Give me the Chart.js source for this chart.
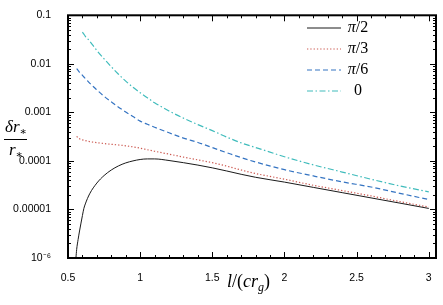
<!DOCTYPE html>
<html>
<head>
<meta charset="utf-8">
<script src="https://cdn.jsdelivr.net/npm/chart.js@4/dist/chart.umd.min.js"></script>
<style>
  html, body { margin: 0; padding: 0; background: #fff; }
  #wrap { width: 443px; height: 305px; }
</style>
</head>
<body>
<div id="wrap"><canvas id="chart" width="443" height="305"></canvas></div>
<script>
// Valeurs
const xValues = [0.555, 0.56, 0.57, 0.58, 0.6, 0.61, 0.62, 0.65, 0.7, 0.75, 0.8, 0.85, 0.9, 0.95, 1.0, 1.05, 1.1, 1.2, 1.3, 1.4, 1.5, 1.6, 1.7, 1.8, 2.0, 2.2, 2.4, 2.6, 2.8, 3.0];

const halfPi = [1.0e-6, 1.5e-6, 2.4e-6, 3.6e-6, 7.5e-6, 1.05e-5, 1.3e-5, 2.1e-5, 3.5e-5, 5.0e-5, 6.5e-5, 7.9e-5, 9.1e-5, 1.0e-4, 1.07e-4, 1.1e-4, 1.1e-4, 1.02e-4, 9.2e-5, 8.2e-5, 7.2e-5, 6.2e-5, 5.3e-5, 4.6e-5, 3.66e-5, 2.85e-5, 2.22e-5, 1.73e-5, 1.35e-5, 1.05e-5];

const thirdPi = [null, 3.2e-4, 3.0e-4, 2.85e-4, 2.72e-4, 2.67e-4, 2.62e-4, 2.5e-4, 2.38e-4, 2.28e-4, 2.2e-4, 2.13e-4, 2.05e-4, 1.95e-4, 1.83e-4, 1.7e-4, 1.58e-4, 1.38e-4, 1.2e-4, 1.05e-4, 9.2e-5, 7.8e-5, 6.5e-5, 5.5e-5, 4.2e-5, 3.15e-5, 2.45e-5, 1.9e-5, 1.45e-5, 1.12e-5];

const sixthPi = [null, 8.0e-3, 7.3e-3, 6.7e-3, 5.8e-3, 5.35e-3, 5.0e-3, 4.0e-3, 2.9e-3, 2.15e-3, 1.65e-3, 1.28e-3, 1.02e-3, 8.2e-4, 6.6e-4, 5.7e-4, 4.95e-4, 3.8e-4, 2.95e-4, 2.4e-4, 1.88e-4, 1.48e-4, 1.17e-4, 9.5e-5, 6.6e-5, 4.9e-5, 3.7e-5, 2.9e-5, 2.15e-5, 1.6e-5];

const zeroAngle = [null, null, null, null, 0.045, 0.041, 0.037, 0.0295, 0.0188, 0.0127, 0.0087, 0.0061, 0.0044, 0.0033, 0.00254, 0.002, 0.00158, 0.00107, 7.6e-4, 5.6e-4, 4.2e-4, 3.1e-4, 2.35e-4, 1.89e-4, 1.22e-4, 8.3e-5, 5.9e-5, 4.2e-5, 3.05e-5, 2.3e-5];

const seriesLabels = ['π/2', 'π/3', 'π/6', '0'];
const xTicks = [0.5, 1, 1.5, 2, 2.5, 3];
const xTickLabels = ['0.5', '1', '1.5', '2', '2.5', '3'];
const yTicks = [1e-6, 1e-5, 1e-4, 1e-3, 1e-2, 1e-1];
const yTickLabels = ['10⁻⁶', '0.00001', '0.0001', '0.001', '0.01', '0.1'];

function toPoints(values) {
    return xValues.map((x, i) => ({ x: x, y: values[i] }));
}

const serif = '"Liberation Serif", "DejaVu Serif", serif';

// Texte en plusieurs morceaux (italique / droit / indice)
function drawRuns(ctx, runs, x, y) {
    let cx = x;
    for (const r of runs) {
        ctx.font = r.font;
        ctx.fillText(r.t, cx, y + (r.dy || 0));
        cx += ctx.measureText(r.t).width;
    }
}

function runsWidth(ctx, runs) {
    let w = 0;
    for (const r of runs) {
        ctx.font = r.font;
        w += ctx.measureText(r.t).width;
    }
    return w;
}

// Cadre, graduations vers l'intérieur, légende et titres
const decorPlugin = {
    id: 'decor',
    afterDraw(chart) {
        const ctx = chart.ctx;
        const area = chart.chartArea;
        const xs = chart.scales.x;
        const ys = chart.scales.y;
        ctx.save();
        ctx.strokeStyle = '#000';
        ctx.fillStyle = '#000';

        // graduations x
        ctx.lineWidth = 1;
        for (let i = 5; i <= 30; i++) {
            const v = i / 10;
            const px = Math.round(xs.getPixelForValue(v)) + 0.5;
            const len = (i % 5 === 0) ? 6 : 3;
            ctx.beginPath();
            ctx.moveTo(px, area.bottom);
            ctx.lineTo(px, area.bottom - len);
            ctx.moveTo(px, area.top);
            ctx.lineTo(px, area.top + len);
            ctx.stroke();
        }
        // graduations y (log)
        for (let e = -6; e <= -1; e++) {
            for (let m = 1; m <= 9; m++) {
                const v = m * Math.pow(10, e);
                if (v > 0.1 + 1e-12) continue;
                const py = Math.round(ys.getPixelForValue(v)) + 0.5;
                const len = (m === 1) ? 6 : 3;
                ctx.beginPath();
                ctx.moveTo(area.left, py);
                ctx.lineTo(area.left + len, py);
                ctx.moveTo(area.right, py);
                ctx.lineTo(area.right - len, py);
                ctx.stroke();
            }
        }
        // cadre
        ctx.lineWidth = 2;
        ctx.strokeRect(area.left, area.top, area.right - area.left, area.bottom - area.top);

        // légende
        const rows = [28, 49, 70, 91];
        chart.data.datasets.forEach((ds, i) => {
            const y = rows[i];
            ctx.save();
            ctx.strokeStyle = ds.borderColor;
            ctx.lineWidth = ds.borderWidth;
            ctx.setLineDash(ds.borderDash || []);
            ctx.beginPath();
            ctx.moveTo(307, y);
            ctx.lineTo(341, y);
            ctx.stroke();
            ctx.restore();
            const lbl = ds.label;
            const runs = lbl.startsWith('π')
                ? [{ t: 'π', font: 'italic 16px ' + serif }, { t: lbl.slice(1), font: '16px ' + serif }]
                : [{ t: lbl, font: '16px ' + serif }];
            ctx.textBaseline = 'middle';
            ctx.textAlign = 'left';
            const w = runsWidth(ctx, runs);
            drawRuns(ctx, runs, 358 - w / 2, y);
        });

        // titre y : δr*/r*
        ctx.textBaseline = 'alphabetic';
        ctx.textAlign = 'left';
        drawRuns(ctx, [
            { t: 'δr', font: 'italic 17px ' + serif },
            { t: '∗', font: '11px ' + serif, dy: 3 }
        ], 5, 132);
        ctx.lineWidth = 1;
        ctx.beginPath();
        ctx.moveTo(4, 139.5);
        ctx.lineTo(27, 139.5);
        ctx.stroke();
        drawRuns(ctx, [
            { t: 'r', font: 'italic 17px ' + serif },
            { t: '∗', font: '11px ' + serif, dy: 3 }
        ], 9, 155);

        // titre x : l/(cr_g)
        drawRuns(ctx, [
            { t: 'l', font: 'italic 18px ' + serif },
            { t: '/(', font: '18px ' + serif },
            { t: 'cr', font: 'italic 18px ' + serif },
            { t: 'g', font: 'italic 12px ' + serif, dy: 4 },
            { t: ')', font: '18px ' + serif }
        ], 227, 287);

        ctx.restore();
    }
};

const lineStyle = { pointRadius: 0, fill: false, cubicInterpolationMode: 'monotone', spanGaps: false };
const tickFont = { family: '"Liberation Sans", Arial, sans-serif', size: 10.5 };

new Chart(document.getElementById('chart').getContext('2d'), {
    type: 'line',
    data: {
        datasets: [
            { label: seriesLabels[0], data: toPoints(halfPi), borderColor: '#1a1a1a', borderWidth: 1, ...lineStyle },
            { label: seriesLabels[1], data: toPoints(thirdPi), borderColor: '#cc5a52', borderWidth: 1.2, borderDash: [1.3, 2], ...lineStyle },
            { label: seriesLabels[2], data: toPoints(sixthPi), borderColor: '#3574c2', borderWidth: 1.2, borderDash: [5, 3], ...lineStyle },
            { label: seriesLabels[3], data: toPoints(zeroAngle), borderColor: '#40bcbc', borderWidth: 1.2, borderDash: [6, 2.5, 1.5, 2.5], ...lineStyle }
        ]
    },
    options: {
        responsive: false,
        animation: false,
        layout: { padding: { top: 6, right: 7, left: 0, bottom: 0 } },
        plugins: {
            legend: { display: false },
            tooltip: { enabled: false }
        },
        scales: {
            x: {
                type: 'linear',
                min: 0.5,
                max: 3.05,
                grid: { display: false },
                border: { display: false },
                afterBuildTicks: (scale) => { scale.ticks = xTicks.map(v => ({ value: v })); },
                afterFit: (scale) => { scale.height = 47; },
                ticks: {
                    padding: 6,
                    color: '#000',
                    font: tickFont,
                    maxRotation: 0,
                    callback: (value) => {
                        const i = xTicks.findIndex(t => Math.abs(t - value) < 1e-9);
                        return i >= 0 ? xTickLabels[i] : '';
                    }
                }
            },
            y: {
                type: 'logarithmic',
                min: 1e-6,
                max: 0.1,
                grid: { display: false },
                border: { display: false },
                afterBuildTicks: (scale) => { scale.ticks = yTicks.map(v => ({ value: v })); },
                afterFit: (scale) => { scale.width = 68; },
                ticks: {
                    padding: 9,
                    color: '#000',
                    font: tickFont,
                    callback: (value) => {
                        const i = Math.round(Math.log10(value)) + 6;
                        return yTickLabels[i] || '';
                    }
                }
            }
        }
    },
    plugins: [decorPlugin]
});
</script>
</body>
</html>
